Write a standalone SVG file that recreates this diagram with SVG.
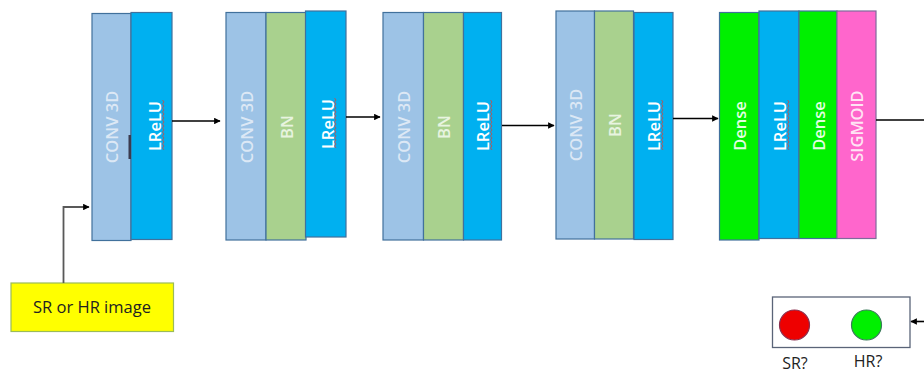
<svg xmlns="http://www.w3.org/2000/svg" width="924" height="374" viewBox="0 0 924 374">
<defs>
<style>
.blk{stroke:#41719C;stroke-width:1.2}
.conv{fill:#9DC3E6}
.bn{fill:#A9D18E}
.lrelu{fill:#00B0F0}
.dense{fill:#00F000}
.sig{fill:#FF66CC;stroke:#7F6A9B}
.lbl{font-family:"Open Sans","Liberation Sans",Arial,sans-serif;font-size:16.5px;font-weight:600;text-anchor:middle;dominant-baseline:central}
.lc{fill:#DCE8F5}
.lw{fill:#FFFFFF}
.lg{fill:#E8F4E0}
.ld{fill:#E2FFE2}
.ls{fill:#FFE4F4}
.conn{stroke:#000;stroke-width:1.6;fill:none}
.sq{stroke:#C0504D;stroke-width:0.9;fill:none}
.cap{font-family:"Open Sans","Liberation Sans",Arial,sans-serif;fill:#222}
</style>
<marker id="ah" viewBox="0 0 10 10" refX="9" refY="5" markerWidth="6.5" markerHeight="6.5" orient="auto" markerUnits="userSpaceOnUse">
<path d="M0,0 L10,5 L0,10 z" fill="#000"/>
</marker>
</defs>
<rect width="924" height="374" fill="#FFFFFF"/>

<g id="block1">
<rect class="blk conv" x="92" y="13.5" width="39" height="227"/>
<rect class="blk lrelu" x="131" y="12.5" width="41" height="227"/>
<rect x="128.5" y="135" width="2.5" height="24" fill="#3B3B4F"/>
<text class="lbl lc" transform="translate(111,127) rotate(-90)">CONV 3D</text>
<text class="lbl lw" transform="translate(154,126) rotate(-90)">LReLU</text>
<path class="sq" d="M162.5,100 l1.5,2 l-1.5,2 l1.5,2 l-1.5,2 l1.5,2 l-1.5,2 l1.5,2 l-1.5,2 l1.5,2 l-1.5,2 l1.5,2 l-1.5,2 l1.5,2 l-1.5,2 l1.5,2 l-1.5,2 l1.5,2 l-1.5,2 l1.5,2 l-1.5,2 l1.5,2 l-1.5,2 l1.5,2 l-1.5,2 l1.5,2"/>
</g>

<g id="block2">
<rect class="blk conv" x="226" y="12.5" width="40" height="227.5"/>
<rect class="blk bn" x="266" y="12.5" width="40" height="227.5"/>
<rect class="blk lrelu" x="305.5" y="11" width="40.5" height="226"/>
<text class="lbl lc" transform="translate(246,127) rotate(-90)">CONV 3D</text>
<text class="lbl lg" transform="translate(286,127) rotate(-90)">BN</text>
<text class="lbl lw" transform="translate(327,124) rotate(-90)">LReLU</text>
<path class="sq" d="M334.5,98 l1.5,2 l-1.5,2 l1.5,2 l-1.5,2 l1.5,2 l-1.5,2 l1.5,2 l-1.5,2 l1.5,2 l-1.5,2 l1.5,2 l-1.5,2 l1.5,2 l-1.5,2 l1.5,2 l-1.5,2 l1.5,2 l-1.5,2 l1.5,2 l-1.5,2 l1.5,2 l-1.5,2 l1.5,2 l-1.5,2 l1.5,2"/>
</g>

<g id="block3">
<rect class="blk conv" x="383" y="12.5" width="40.5" height="227.5"/>
<rect class="blk bn" x="423.5" y="12.5" width="40" height="227.5"/>
<rect class="blk lrelu" x="463.5" y="12.5" width="38" height="227.5"/>
<text class="lbl lc" transform="translate(403,127) rotate(-90)">CONV 3D</text>
<text class="lbl lg" transform="translate(443,127) rotate(-90)">BN</text>
<text class="lbl lw" transform="translate(482,126) rotate(-90)">LReLU</text>
<path class="sq" d="M490.5,100 l1.5,2 l-1.5,2 l1.5,2 l-1.5,2 l1.5,2 l-1.5,2 l1.5,2 l-1.5,2 l1.5,2 l-1.5,2 l1.5,2 l-1.5,2 l1.5,2 l-1.5,2 l1.5,2 l-1.5,2 l1.5,2 l-1.5,2 l1.5,2 l-1.5,2 l1.5,2 l-1.5,2 l1.5,2 l-1.5,2 l1.5,2"/>
</g>

<g id="block4">
<rect class="blk conv" x="556" y="11" width="38.5" height="228"/>
<rect class="blk bn" x="594.5" y="11" width="39" height="228"/>
<rect class="blk lrelu" x="634" y="12.5" width="39" height="227"/>
<text class="lbl lc" transform="translate(575,125) rotate(-90)">CONV 3D</text>
<text class="lbl lg" transform="translate(614,125) rotate(-90)">BN</text>
<text class="lbl lw" transform="translate(653,126) rotate(-90)">LReLU</text>
<path class="sq" d="M661.5,100 l1.5,2 l-1.5,2 l1.5,2 l-1.5,2 l1.5,2 l-1.5,2 l1.5,2 l-1.5,2 l1.5,2 l-1.5,2 l1.5,2 l-1.5,2 l1.5,2 l-1.5,2 l1.5,2 l-1.5,2 l1.5,2 l-1.5,2 l1.5,2 l-1.5,2 l1.5,2 l-1.5,2 l1.5,2 l-1.5,2 l1.5,2"/>
</g>

<g id="block5">
<rect class="blk dense" x="719.5" y="12.5" width="39.5" height="227.5"/>
<rect class="blk lrelu" x="759" y="11" width="40" height="227.5"/>
<rect class="blk dense" x="799" y="11" width="38" height="227.5"/>
<rect class="blk sig" x="837" y="11" width="39" height="227.5"/>
<text class="lbl ld" transform="translate(739,126) rotate(-90)">Dense</text>
<text class="lbl lw" transform="translate(779,126) rotate(-90)">LReLU</text>
<text class="lbl ld" transform="translate(818,126) rotate(-90)">Dense</text>
<text class="lbl ls" transform="translate(856,126) rotate(-90)">SIGMOID</text>
<path class="sq" d="M787.5,100 l1.5,2 l-1.5,2 l1.5,2 l-1.5,2 l1.5,2 l-1.5,2 l1.5,2 l-1.5,2 l1.5,2 l-1.5,2 l1.5,2 l-1.5,2 l1.5,2 l-1.5,2 l1.5,2 l-1.5,2 l1.5,2 l-1.5,2 l1.5,2 l-1.5,2 l1.5,2 l-1.5,2 l1.5,2 l-1.5,2 l1.5,2"/>
</g>

<g id="input">
<rect x="11" y="283" width="162.5" height="48.5" fill="#FFFF00" stroke="#9BBB59" stroke-width="1.2"/>
<text class="cap" x="92" y="306" font-size="16.5" text-anchor="middle" dominant-baseline="central">SR or HR image</text>
</g>

<g id="output">
<rect x="772.5" y="297" width="137.5" height="50.5" fill="#FFFFFF" stroke="#5A6478" stroke-width="1.3"/>
<circle cx="794.5" cy="325" r="15" fill="#EE0000" stroke="#8B2F4F" stroke-width="1.2"/>
<circle cx="866.5" cy="325" r="15" fill="#00F000" stroke="#3A7A5A" stroke-width="1.2"/>
<text class="cap" x="795" y="362.5" font-size="16" text-anchor="middle" dominant-baseline="central">SR?</text>
<text class="cap" x="868" y="360.5" font-size="16" text-anchor="middle" dominant-baseline="central">HR?</text>
</g>

<g id="connectors">
<path class="conn" d="M172,121 H220" marker-end="url(#ah)"/>
<path class="conn" d="M346,117 H380" marker-end="url(#ah)"/>
<path class="conn" d="M502,125.5 H554" marker-end="url(#ah)"/>
<path class="conn" d="M673,118.5 H718" marker-end="url(#ah)"/>
<path class="conn" d="M876,120 H924"/>
<path d="M63.5,283 V207 H89" stroke="#595959" stroke-width="1.8" fill="none" marker-end="url(#ah)"/>
<path class="conn" d="M924,321.5 H911" marker-end="url(#ah)"/>
</g>
</svg>
